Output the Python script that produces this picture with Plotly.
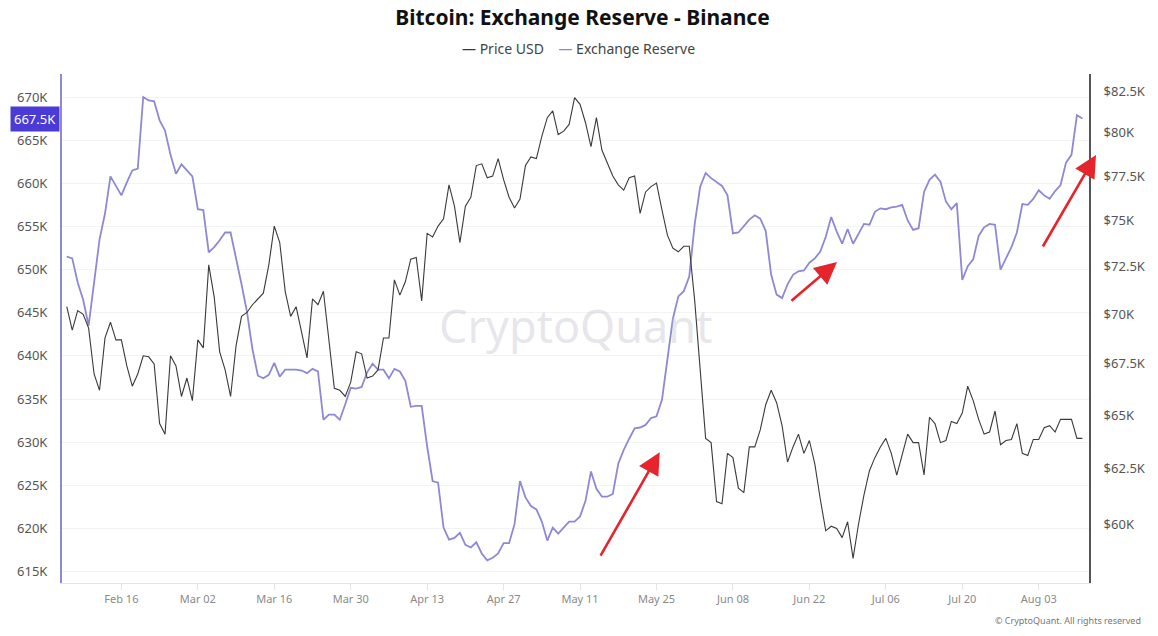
import pandas as pd
import plotly.graph_objects as go

# Daily values (Feb 06 -> Aug 11)
start_date = "2025-02-06"

# Exchange reserve on Binance, thousands of BTC
reserve_k = [
    651.5, 651.3, 648.5, 646.5, 643.5, 648.7, 653.5, 656.5, 660.8, 659.7,
    658.6, 660.1, 661.5, 661.7, 670.0, 669.6, 669.5, 667.3, 666.1, 663.3,
    661.1, 662.2, 661.5, 660.8, 657.0, 656.9, 652.0, 652.6, 653.4, 654.3,
    654.3, 651.4, 648.3, 645.1, 640.8, 637.7, 637.4, 637.8, 639.2, 637.6,
    638.4, 638.4, 638.4, 638.3, 638.0, 638.5, 638.2, 632.6, 633.2, 633.2,
    632.6, 634.4, 636.3, 636.2, 636.4, 638.1, 639.1, 638.4, 638.4, 637.4,
    638.5, 638.2, 637.1, 634.1, 634.2, 634.2, 629.5, 625.5, 625.3, 620.1,
    618.7, 618.9, 619.5, 618.1, 617.8, 618.4, 617.1, 616.3, 616.6, 617.1,
    618.3, 618.3, 620.5, 625.5, 623.6, 622.6, 622.2, 620.8, 618.6, 620.1,
    619.4, 620.1, 620.8, 620.8, 621.4, 623.2, 626.6, 624.6, 623.7, 623.7,
    624.0, 627.5, 629.1, 630.4, 631.6, 631.7, 632.0, 632.8, 633.0, 634.9,
    639.6, 644.3, 646.9, 647.5, 649.2, 655.3, 659.6, 661.2, 660.6, 660.1,
    659.7, 658.6, 654.2, 654.3, 655.1, 655.8, 656.3, 655.9, 654.5, 649.4,
    647.1, 646.7, 648.3, 649.4, 649.8, 649.9, 650.8, 651.3, 652.1, 653.8,
    656.1, 654.4, 653.0, 654.7, 653.0, 654.2, 655.3, 655.2, 656.7, 657.1,
    657.0, 657.2, 657.3, 657.5, 655.7, 654.6, 654.8, 659.0, 660.4, 661.0,
    660.2, 657.9, 657.0, 657.7, 648.8, 650.4, 651.2, 653.9, 654.9, 655.3,
    655.2, 650.0, 651.4, 652.6, 654.3, 657.6, 657.5, 658.2, 659.2, 658.6,
    658.2, 659.1, 659.8, 662.4, 663.3, 667.9, 667.5,
]

# BTC price, thousands of USD
price_k = [
    70.4, 69.2, 70.2, 70.0, 69.3, 67.0, 66.2, 68.8, 69.6, 68.7,
    68.7, 67.4, 66.4, 67.0, 67.9, 67.85, 67.5, 64.6, 64.1, 67.9,
    67.4, 65.9, 66.8, 65.7, 68.7, 68.3, 72.6, 70.9, 68.1, 67.2,
    65.9, 68.4, 69.9, 70.1, 70.5, 70.8, 71.1, 72.6, 74.7, 73.8,
    71.2, 69.9, 70.4, 69.1, 67.8, 70.8, 70.5, 71.2, 68.7, 66.3,
    66.2, 65.9, 66.6, 68.1, 68.0, 66.8, 66.9, 67.2, 68.8, 68.8,
    71.8, 71.0, 71.7, 72.9, 73.0, 70.7, 74.3, 74.1, 74.7, 75.1,
    77.0, 75.8, 73.8, 75.8, 76.3, 78.1, 78.2, 77.4, 77.5, 78.5,
    77.3, 76.3, 75.7, 76.2, 78.1, 78.6, 78.5, 79.8, 80.9, 81.3,
    79.9, 80.1, 80.5, 82.1, 81.7, 80.6, 79.2, 80.9, 79.0, 78.2,
    77.5, 77.0, 76.7, 77.4, 77.5, 75.4, 76.6, 76.9, 77.1, 75.6,
    74.2, 73.5, 73.3, 73.6, 73.6, 70.7, 67.2, 63.9, 63.7, 61.0,
    60.9, 63.2, 63.0, 61.6, 61.4, 63.5, 63.5, 64.3, 65.5, 66.2,
    65.6, 64.5, 62.8, 63.5, 64.1, 63.2, 63.8, 62.7, 61.1, 59.7,
    59.9, 59.8, 59.4, 60.1, 58.5, 60.0, 61.3, 62.4, 63.0, 63.5,
    63.9, 63.2, 62.2, 63.2, 64.1, 63.7, 63.7, 62.2, 64.9, 64.6,
    63.7, 63.8, 64.7, 64.6, 65.1, 66.4, 65.7, 64.8, 64.1, 64.2,
    65.2, 63.6, 63.8, 63.85, 64.6, 63.2, 63.1, 63.85, 63.85, 64.4,
    64.5, 64.2, 64.8, 64.8, 64.8, 63.9, 63.9,
]

reserve_ticks = [615, 620, 625, 630, 635, 640, 645, 650, 655, 660, 665, 670]
reserve_tick_labels = [f"{v}K" for v in reserve_ticks]
price_ticks = [60, 62.5, 65, 67.5, 70, 72.5, 75, 77.5, 80, 82.5]
price_tick_labels = ["$60K", "$62.5K", "$65K", "$67.5K", "$70K", "$72.5K",
                     "$75K", "$77.5K", "$80K", "$82.5K"]

dates = pd.date_range(start_date, periods=len(reserve_k), freq="D")

PURPLE = "#8e88d6"
DARK = "#3a3a3a"
FONT = "Noto Sans"

fig = go.Figure()
fig.add_trace(go.Scatter(x=dates, y=price_k, name="Price USD", yaxis="y2",
                         mode="lines", line=dict(color=DARK, width=1.1)))
fig.add_trace(go.Scatter(x=dates, y=reserve_k, name="Exchange Reserve",
                         mode="lines", line=dict(color=PURPLE, width=1.8)))

fig.update_layout(
    width=1158, height=636,
    margin=dict(l=62, r=65, t=74, b=53),
    paper_bgcolor="white", plot_bgcolor="white",
    font=dict(family=FONT, color="#555"),
    showlegend=False,
    title=dict(text="<b>Bitcoin: Exchange Reserve - Binance</b>",
               x=0.503, xanchor="center", y=0.973, yanchor="middle",
               font=dict(size=21, color="#111", family=FONT)),
    xaxis=dict(
        type="date",
        range=["2025-02-05 03:00", "2025-08-12 05:00"],
        tick0="2025-02-16", dtick=14 * 24 * 3600 * 1000,
        tickformat="%b %d",
        showgrid=False, showline=True, linecolor="#e3e3e8", linewidth=1,
        ticks="outside", ticklen=6, tickcolor="#e3e3e8",
        tickfont=dict(size=11, color="#8a8a8a"),
        zeroline=False,
    ),
    yaxis=dict(
        range=[613.68, 672.67],
        tickvals=reserve_ticks, ticktext=reserve_tick_labels,
        showgrid=True, gridcolor="#f3f3f5", gridwidth=1,
        showline=True, linecolor=PURPLE, linewidth=2,
        tickfont=dict(size=13, color="#555"),
        ticklabelstandoff=10, zeroline=False,
    ),
    yaxis2=dict(
        overlaying="y", side="right", type="log",
        range=[1.7593, 1.9219],
        tickvals=price_ticks, ticktext=price_tick_labels,
        showgrid=False, showline=True, linecolor="#555", linewidth=2,
        tickfont=dict(size=13, color="#555"),
        ticklabelstandoff=10, zeroline=False,
    ),
)

annotations = [
    # legend
    dict(text=f"<span style='color:{DARK}'>—</span> Price USD    "
              f"<span style='color:{PURPLE}'>—</span> Exchange Reserve",
         xref="paper", yref="paper", x=0.503, y=1.051, xanchor="center",
         yanchor="middle", showarrow=False, font=dict(size=14, color="#444")),
    # watermark
    dict(text="CryptoQuant", xref="paper", yref="paper", x=0.5, y=0.505,
         showarrow=False, font=dict(size=45, color="rgba(190,190,202,0.38)")),
    # copyright
    dict(text="© CryptoQuant. All rights reserved", xref="paper", yref="paper",
         x=1.053, y=-0.074, xanchor="right", yanchor="middle", showarrow=False,
         font=dict(size=9, color="#777")),
    # last value badges
    dict(text=f"{reserve_k[-1]:.1f}K", xref="paper", yref="y", x=0, y=reserve_k[-1],
         xanchor="right", yanchor="middle", xshift=-2, showarrow=False,
         bgcolor="#4b3bd6", borderpad=3, font=dict(size=13, color="white")),
    dict(text=f"${price_k[-1]:.1f}K", xref="paper", yref="y2", x=1,
         y=price_k[-1], xanchor="left", yanchor="middle", xshift=3,
         showarrow=False, bgcolor="#111", borderpad=3,
         font=dict(size=13, color="white")),
]

# red arrows
for hx, hy, ax, ay in [(0.582, 0.257, -60, 105),
                       (0.7546, 0.6306, -47, 40),
                       (1.0068, 0.8409, -54, 93)]:
    annotations.append(dict(x=hx, y=hy, xref="paper", yref="paper", text="",
                            showarrow=True, ax=ax, ay=ay, arrowhead=2,
                            arrowsize=1.7, arrowwidth=2.6, arrowcolor="#e5242b",
                            standoff=0))

fig.update_layout(annotations=annotations)

fig.write_html("out.html", config={"displayModeBar": False},
               post_script="document.body.style.margin='0';")
